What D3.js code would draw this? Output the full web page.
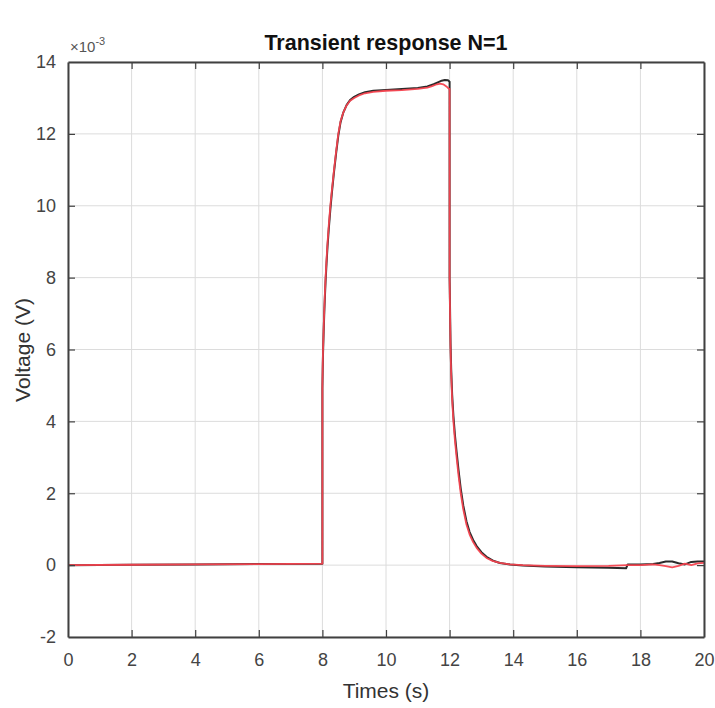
<!DOCTYPE html>
<html><head><meta charset="utf-8">
<script src="https://cdn.jsdelivr.net/npm/d3@7"></script>
<style>
html,body{margin:0;padding:0;background:#fff;}
svg{display:block;font-family:"Liberation Sans",Arial,sans-serif;}
</style></head>
<body><svg id="c" width="715" height="708"></svg>
<script>
const title = "Transient response N=1";
const xLabel = "Times (s)";
const yLabel = "Voltage (V)";
const xTicks = [0,2,4,6,8,10,12,14,16,18,20];
const yTicks = [-2,0,2,4,6,8,10,12,14];

// time (s) and voltage (x1e-3 V)
const redT = [0,2,4,6,8.0,8.0,8.01,8.02,8.04,8.06,8.08,8.1,8.13,8.16,8.2,8.25,8.3,8.36,8.43,8.5,8.57,8.66,8.76,8.87,9.0,9.15,9.34,9.6,10,10.5,11,11.3,11.45,11.6,11.7,11.8,11.9,11.97,12.0,12.0,12.01,12.02,12.03,12.05,12.08,12.12,12.17,12.22,12.28,12.35,12.43,12.53,12.63,12.74,12.85,13.0,13.16,13.35,13.58,13.9,14.3,15,16,17,17.6,18,18.4,18.6,18.8,19.0,19.2,19.4,19.6,19.8,20];
const redV = [0,0.01,0.02,0.03,0.04,5.0,5.55,6.0,6.6,7.15,7.6,8.0,8.5,8.95,9.45,10.0,10.45,10.95,11.5,12.0,12.35,12.6,12.79,12.92,13.0,13.07,13.13,13.17,13.2,13.22,13.25,13.29,13.33,13.38,13.4,13.38,13.32,13.26,13.25,8.0,7.3,6.6,6.0,5.3,4.6,4.0,3.45,3.0,2.5,2.0,1.55,1.13,0.85,0.64,0.48,0.32,0.2,0.12,0.06,0.02,0.0,-0.02,-0.03,-0.02,0.0,0.0,0.02,0.0,-0.03,-0.06,-0.02,0.04,0.0,0.05,0.06];

const blackT = [0,2,4,6,8.0,8.0,8.01,8.02,8.04,8.06,8.08,8.1,8.13,8.16,8.2,8.25,8.3,8.36,8.43,8.5,8.57,8.66,8.76,8.87,9.0,9.15,9.34,9.6,10,10.5,11,11.3,11.5,11.65,11.75,11.85,11.95,12.0,12.0,12.01,12.02,12.03,12.05,12.08,12.12,12.17,12.22,12.28,12.35,12.43,12.53,12.63,12.74,12.85,13.0,13.16,13.35,13.58,13.9,14.3,15,16,17,17.55,17.6,18,18.4,18.6,18.8,19.0,19.2,19.4,19.6,19.8,20];
const blackV = [0,0.01,0.02,0.03,0.04,4.9,5.45,5.9,6.5,7.05,7.5,7.9,8.4,8.85,9.35,9.9,10.38,10.9,11.45,11.95,12.32,12.6,12.8,12.94,13.03,13.1,13.16,13.2,13.22,13.25,13.28,13.32,13.38,13.44,13.48,13.5,13.49,13.45,8.0,7.4,6.75,6.15,5.45,4.75,4.15,3.6,3.15,2.65,2.13,1.66,1.22,0.92,0.7,0.53,0.36,0.23,0.13,0.06,0.02,-0.01,-0.04,-0.06,-0.07,-0.09,0.02,0.02,0.03,0.06,0.1,0.1,0.05,0.02,0.09,0.1,0.1];

const svg = d3.select("#c");
const m = {l:68, r:704, t:62, b:637};
const x = d3.scaleLinear().domain([0,20]).range([m.l,m.r]);
const y = d3.scaleLinear().domain([-2,14]).range([m.b,m.t]);

// grid
const g = svg.append("g");
g.selectAll("line.gx").data(xTicks).join("line")
  .attr("x1",d=>x(d)).attr("x2",d=>x(d)).attr("y1",m.t).attr("y2",m.b)
  .attr("stroke","#dcdcdc").attr("stroke-width",1);
g.selectAll("line.gy").data(yTicks).join("line")
  .attr("y1",d=>y(d)).attr("y2",d=>y(d)).attr("x1",m.l).attr("x2",m.r)
  .attr("stroke","#dcdcdc").attr("stroke-width",1);

// lines
const line = d3.line().x(d=>x(d[0])).y(d=>y(d[1])).curve(d3.curveLinear);
svg.append("path").datum(blackT.map((t,i)=>[t,blackV[i]]))
  .attr("d",line).attr("fill","none").attr("stroke","#2a2a2a").attr("stroke-width",2)
  .attr("stroke-linejoin","round");
svg.append("path").datum(redT.map((t,i)=>[t,redV[i]]))
  .attr("d",line).attr("fill","none").attr("stroke","#f5434f").attr("stroke-width",1.8)
  .attr("stroke-linejoin","round").attr("opacity",0.95);

// axes (MATLAB style, inward ticks on all sides)
const axCol = "#404040";
const fmt = d => String(d);
const xb = svg.append("g").attr("transform",`translate(0,${m.b})`)
  .call(d3.axisBottom(x).tickValues(xTicks).tickSizeInner(-7).tickSizeOuter(0).tickPadding(16).tickFormat(fmt));
const xt = svg.append("g").attr("transform",`translate(0,${m.t})`)
  .call(d3.axisTop(x).tickValues(xTicks).tickSizeInner(-7).tickSizeOuter(0).tickFormat(""));
const yl = svg.append("g").attr("transform",`translate(${m.l},0)`)
  .call(d3.axisLeft(y).tickValues(yTicks).tickSizeInner(-7).tickSizeOuter(0).tickPadding(12).tickFormat(fmt));
const yr = svg.append("g").attr("transform",`translate(${m.r},0)`)
  .call(d3.axisRight(y).tickValues(yTicks).tickSizeInner(-7).tickSizeOuter(0).tickFormat(""));
[xb,xt,yl,yr].forEach(a=>{
  a.select(".domain").attr("stroke",axCol).attr("stroke-width",2);
  a.selectAll(".tick line").attr("stroke",axCol).attr("stroke-width",1.2);
  a.selectAll("text").attr("fill","#444").attr("font-size",18)
   .attr("font-family","'Liberation Sans',Arial,sans-serif");
});
xb.selectAll(".tick line").filter(d=>d===0||d===20).remove();
xt.selectAll(".tick line").filter(d=>d===0||d===20).remove();
yl.selectAll(".tick line").filter(d=>d===-2||d===14).remove();
yr.selectAll(".tick line").filter(d=>d===-2||d===14).remove();

// exponent
const ex = svg.append("text").attr("x",70).attr("y",52).attr("fill","#555")
  .attr("font-size",15);
ex.append("tspan").text("\u00d710");
ex.append("tspan").attr("dy",-7).attr("font-size",11).text("-3");

// title
svg.append("text").attr("x",386).attr("y",50).attr("text-anchor","middle")
  .attr("font-size",21.5).attr("font-weight","bold").attr("fill","#111").text(title);
// axis labels
svg.append("text").attr("x",386).attr("y",698).attr("text-anchor","middle")
  .attr("font-size",21).attr("fill","#333").text(xLabel);
svg.append("text").attr("transform","translate(30,350) rotate(-90)").attr("text-anchor","middle")
  .attr("font-size",21).attr("fill","#333").text(yLabel);
</script></body></html>
